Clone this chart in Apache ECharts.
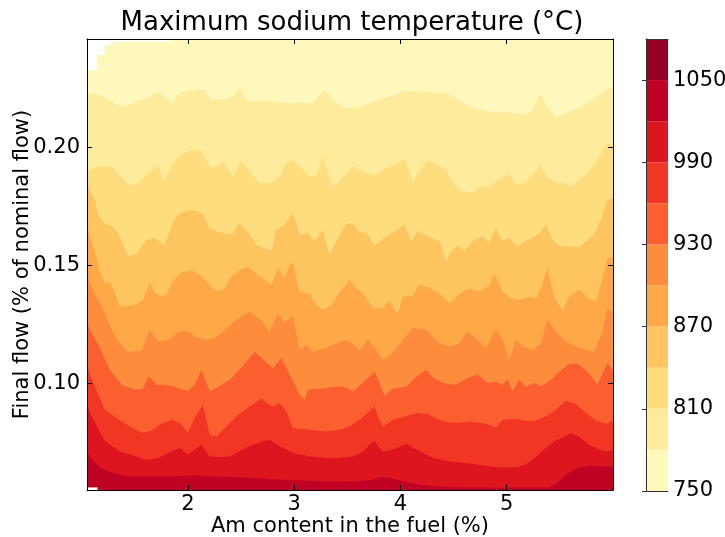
<!DOCTYPE html>
<html><head><meta charset="utf-8">
<script src="https://cdn.jsdelivr.net/npm/echarts@6/dist/echarts.min.js"></script>
<style>html,body{margin:0;padding:0;background:#fff}#c{width:725px;height:537px}</style>
</head><body><div id="c"></div>
<script>
// contour levels (°C) and fill colours (YlOrRd)
const levels = [750,780,810,840,870,900,930,960,990,1020,1050,1080];
const bandColors = ['#fff8bc','#ffeb9c','#fedd7e','#fec45f','#fea848','#fd8d3c','#fc5f2f','#f13724','#dc151e','#c00225','#960026'];
const xTicks = [2,3,4,5];
const yTicks = [0.10,0.15,0.20];
const cbTicks = [750,810,870,930,990,1050];

// iso-lines: [Am content %, final flow] ; temperature is above the level below each line
const c780 = [[1.05,0.2230],[1.077,0.2230],[1.171,0.2223],[1.281,0.2195],[1.375,0.2171],[1.484,0.2188],[1.610,0.2209],[1.719,0.2237],[1.766,0.2223],[1.845,0.2185],[1.939,0.2237],[2.111,0.2247],[2.158,0.2244],[2.221,0.2202],[2.362,0.2205],[2.440,0.2223],[2.487,0.2256],[2.565,0.2195],[2.691,0.2199],[2.832,0.2192],[2.957,0.2188],[3.051,0.2190],[3.176,0.2188],[3.286,0.2244],[3.380,0.2195],[3.490,0.2167],[3.615,0.2172],[3.756,0.2195],[3.897,0.2216],[4.022,0.2237],[4.101,0.2241],[4.242,0.2237],[4.445,0.2230],[4.555,0.2202],[4.680,0.2167],[4.773,0.2160],[4.883,0.2146],[4.993,0.2152],[5.087,0.2146],[5.165,0.2138],[5.243,0.2160],[5.313,0.2230],[5.384,0.2174],[5.457,0.2129],[5.557,0.2146],[5.713,0.2176],[5.854,0.2216],[5.948,0.2251],[6.0,0.2256]];
const c810 = [[1.05,0.1897],[1.077,0.1906],[1.171,0.1920],[1.281,0.1920],[1.375,0.1877],[1.453,0.1838],[1.531,0.1849],[1.625,0.1892],[1.719,0.1927],[1.782,0.1856],[1.829,0.1913],[1.923,0.1969],[2.064,0.1993],[2.127,0.1987],[2.205,0.1920],[2.252,0.1917],[2.330,0.1941],[2.424,0.1877],[2.503,0.1945],[2.581,0.1898],[2.675,0.1849],[2.785,0.1849],[2.863,0.1877],[2.926,0.1934],[2.988,0.1948],[3.067,0.1913],[3.145,0.1877],[3.208,0.1885],[3.270,0.1962],[3.317,0.1892],[3.364,0.1835],[3.427,0.1856],[3.490,0.1892],[3.552,0.1920],[3.615,0.1906],[3.756,0.1882],[3.866,0.1913],[4.022,0.1948],[4.054,0.1941],[4.116,0.1849],[4.163,0.1892],[4.257,0.1945],[4.367,0.1920],[4.430,0.1906],[4.476,0.1863],[4.555,0.1821],[4.680,0.1807],[4.742,0.1835],[4.836,0.1835],[4.914,0.1863],[5.024,0.1889],[5.087,0.1842],[5.149,0.1849],[5.228,0.1877],[5.313,0.1927],[5.384,0.1871],[5.447,0.1854],[5.525,0.1852],[5.604,0.1835],[5.682,0.1863],[5.760,0.1892],[5.854,0.1948],[5.948,0.2019],[6.0,0.2011]];
const c840 = [[1.05,0.1842],[1.077,0.1821],[1.124,0.1779],[1.155,0.1719],[1.218,0.1677],[1.281,0.1669],[1.343,0.1639],[1.437,0.1539],[1.516,0.1553],[1.610,0.1609],[1.688,0.1617],[1.782,0.1588],[1.860,0.1686],[1.939,0.1728],[2.064,0.1736],[2.142,0.1719],[2.205,0.1659],[2.283,0.1643],[2.409,0.1631],[2.487,0.1680],[2.565,0.1643],[2.644,0.1588],[2.722,0.1574],[2.785,0.1563],[2.832,0.1652],[2.910,0.1673],[2.988,0.1724],[3.051,0.1631],[3.129,0.1638],[3.192,0.1602],[3.270,0.1652],[3.333,0.1546],[3.411,0.1618],[3.490,0.1677],[3.552,0.1680],[3.615,0.1643],[3.678,0.1638],[3.756,0.1584],[3.834,0.1614],[3.928,0.1639],[4.038,0.1673],[4.101,0.1601],[4.160,0.1647],[4.273,0.1620],[4.367,0.1605],[4.430,0.1518],[4.476,0.1559],[4.536,0.1584],[4.602,0.1563],[4.680,0.1605],[4.773,0.1626],[4.836,0.1597],[4.899,0.1660],[4.962,0.1605],[5.024,0.1618],[5.103,0.1580],[5.165,0.1602],[5.259,0.1622],[5.322,0.1645],[5.369,0.1677],[5.431,0.1609],[5.494,0.1584],[5.588,0.1581],[5.682,0.1578],[5.758,0.1609],[5.823,0.1635],[5.886,0.1694],[5.948,0.1779],[6.0,0.1787]];
const c870 = [[1.05,0.1673],[1.077,0.1622],[1.124,0.1559],[1.171,0.1474],[1.218,0.1426],[1.265,0.1432],[1.312,0.1385],[1.359,0.1326],[1.500,0.1334],[1.578,0.1355],[1.641,0.1426],[1.688,0.1384],[1.751,0.1369],[1.798,0.1377],[1.860,0.1436],[1.939,0.1472],[2.048,0.1480],[2.111,0.1461],[2.174,0.1433],[2.236,0.1406],[2.283,0.1391],[2.346,0.1406],[2.409,0.1453],[2.487,0.1482],[2.565,0.1495],[2.628,0.1470],[2.722,0.1440],[2.785,0.1417],[2.847,0.1490],[2.910,0.1447],[2.957,0.1504],[2.988,0.1511],[3.051,0.1389],[3.145,0.1381],[3.208,0.1334],[3.270,0.1313],[3.349,0.1334],[3.427,0.1384],[3.521,0.1440],[3.584,0.1406],[3.646,0.1384],[3.740,0.1320],[3.819,0.1320],[3.897,0.1347],[3.975,0.1292],[4.022,0.1368],[4.116,0.1372],[4.179,0.1419],[4.273,0.1405],[4.367,0.1381],[4.461,0.1341],[4.555,0.1381],[4.649,0.1402],[4.742,0.1391],[4.836,0.1415],[4.883,0.1466],[4.962,0.1391],[5.040,0.1360],[5.118,0.1355],[5.212,0.1368],[5.275,0.1360],[5.322,0.1406],[5.384,0.1490],[5.447,0.1364],[5.525,0.1309],[5.588,0.1368],[5.682,0.1398],[5.760,0.1364],[5.839,0.1347],[5.898,0.1440],[5.948,0.1533],[6.0,0.1533]];
const c900 = [[1.05,0.1474],[1.077,0.1426],[1.143,0.1364],[1.218,0.1299],[1.281,0.1229],[1.359,0.1172],[1.437,0.1135],[1.563,0.1140],[1.641,0.1229],[1.719,0.1179],[1.813,0.1186],[1.923,0.1221],[2.001,0.1221],[2.064,0.1200],[2.158,0.1186],[2.236,0.1193],[2.330,0.1221],[2.456,0.1271],[2.581,0.1306],[2.691,0.1267],[2.769,0.1221],[2.847,0.1299],[2.910,0.1258],[2.988,0.1288],[3.051,0.1144],[3.114,0.1165],[3.176,0.1135],[3.270,0.1148],[3.364,0.1165],[3.490,0.1186],[3.521,0.1179],[3.615,0.1144],[3.693,0.1186],[3.772,0.1144],[3.834,0.1102],[3.928,0.1130],[4.022,0.1186],[4.116,0.1236],[4.241,0.1229],[4.367,0.1172],[4.461,0.1158],[4.555,0.1172],[4.633,0.1221],[4.742,0.1179],[4.805,0.1151],[4.899,0.1229],[4.962,0.1186],[5.024,0.1102],[5.087,0.1186],[5.149,0.1158],[5.243,0.1144],[5.322,0.1172],[5.384,0.1271],[5.463,0.1221],[5.557,0.1179],[5.651,0.1158],[5.745,0.1144],[5.823,0.1137],[5.901,0.1221],[5.948,0.1320],[6.0,0.1299]];
const c930 = [[1.05,0.1262],[1.077,0.1229],[1.171,0.1152],[1.265,0.1059],[1.375,0.0996],[1.500,0.0975],[1.578,0.0979],[1.625,0.1030],[1.657,0.1021],[1.704,0.0996],[1.766,0.0996],[1.845,0.0992],[1.923,0.0979],[2.001,0.0970],[2.064,0.0996],[2.127,0.1059],[2.205,0.0967],[2.268,0.0983],[2.393,0.1017],[2.518,0.1076],[2.628,0.1135],[2.691,0.1110],[2.800,0.1066],[2.879,0.1109],[2.973,0.1024],[3.051,0.0953],[3.098,0.0932],[3.129,0.0975],[3.302,0.0982],[3.427,0.0989],[3.505,0.0982],[3.552,0.0967],[3.646,0.1003],[3.756,0.1051],[3.784,0.1025],[3.850,0.0949],[3.928,0.0979],[4.054,0.0987],[4.148,0.1030],[4.241,0.1059],[4.320,0.1021],[4.430,0.1000],[4.523,0.0996],[4.633,0.1024],[4.727,0.1038],[4.820,0.1004],[4.899,0.1008],[4.962,0.0996],[5.009,0.1017],[5.056,0.0967],[5.118,0.1017],[5.181,0.0987],[5.259,0.1003],[5.322,0.0989],[5.400,0.1010],[5.494,0.1051],[5.588,0.1085],[5.666,0.1085],[5.760,0.1051],[5.854,0.0996],[5.948,0.1088],[6.0,0.1055]];
const c960 = [[1.05,0.1080],[1.077,0.1038],[1.218,0.0890],[1.328,0.0856],[1.453,0.0818],[1.563,0.0793],[1.641,0.0798],[1.735,0.0826],[1.845,0.0848],[1.923,0.0834],[2.001,0.0793],[2.064,0.0856],[2.142,0.0911],[2.205,0.0784],[2.268,0.0777],[2.362,0.0819],[2.471,0.0869],[2.581,0.0904],[2.691,0.0939],[2.738,0.0918],[2.800,0.0904],[2.863,0.0918],[2.926,0.0883],[2.988,0.0813],[3.145,0.0805],[3.302,0.0798],[3.427,0.0805],[3.521,0.0819],[3.615,0.0848],[3.693,0.0877],[3.756,0.0904],[3.787,0.0860],[3.834,0.0818],[3.928,0.0848],[4.054,0.0862],[4.148,0.0876],[4.257,0.0873],[4.336,0.0852],[4.461,0.0835],[4.555,0.0835],[4.649,0.0839],[4.742,0.0835],[4.836,0.0826],[4.899,0.0814],[4.962,0.0848],[5.087,0.0852],[5.181,0.0843],[5.275,0.0843],[5.369,0.0862],[5.463,0.0890],[5.557,0.0928],[5.651,0.0915],[5.745,0.0877],[5.839,0.0843],[5.933,0.0831],[6.0,0.0843]];
const c990 = [[1.05,0.0911],[1.077,0.0877],[1.218,0.0756],[1.359,0.0713],[1.516,0.0692],[1.610,0.0678],[1.719,0.0686],[1.813,0.0707],[1.923,0.0728],[2.001,0.0700],[2.127,0.0742],[2.205,0.0692],[2.299,0.0690],[2.393,0.0692],[2.518,0.0721],[2.612,0.0742],[2.706,0.0756],[2.769,0.0763],[2.863,0.0735],[2.988,0.0707],[3.145,0.0692],[3.302,0.0686],[3.427,0.0686],[3.552,0.0692],[3.646,0.0712],[3.709,0.0742],[3.756,0.0756],[3.803,0.0728],[3.834,0.0712],[3.928,0.0721],[3.991,0.0733],[4.054,0.0746],[4.148,0.0721],[4.304,0.0687],[4.461,0.0671],[4.617,0.0664],[4.773,0.0655],[4.930,0.0645],[5.087,0.0645],[5.175,0.0657],[5.259,0.0683],[5.353,0.0721],[5.447,0.0755],[5.541,0.0774],[5.604,0.0791],[5.682,0.0776],[5.776,0.0742],[5.870,0.0721],[5.948,0.0713],[6.0,0.0721]];
const c1020 = [[1.05,0.0721],[1.077,0.0691],[1.171,0.0645],[1.296,0.0622],[1.422,0.0608],[1.610,0.0608],[1.798,0.0608],[1.923,0.0608],[2.048,0.0611],[2.236,0.0608],[2.424,0.0605],[2.612,0.0601],[2.800,0.0594],[2.988,0.0592],[3.176,0.0588],[3.364,0.0587],[3.521,0.0585],[3.678,0.0590],[3.756,0.0596],[3.834,0.0606],[3.928,0.0598],[4.022,0.0587],[4.179,0.0573],[4.367,0.0564],[4.617,0.0561],[4.930,0.0559],[5.243,0.0561],[5.400,0.0560],[5.478,0.0580],[5.557,0.0615],[5.666,0.0644],[5.792,0.0653],[5.917,0.0649],[6.0,0.0649]];
// edges of the computed domain (no data outside)
const noDataTop = [[1.05,0.2329],[1.143,0.2329],[1.143,0.2392],[1.218,0.2392],[1.218,0.2435],[1.293,0.2435],[1.293,0.2449],[1.848,0.2449],[1.848,0.246]];
const noDataBottom = [[1.05,0.0561],[1.15,0.0561]];

const isoLines = [c780,c810,c840,c870,c900,c930,c960,c990,c1020];

const FONT = 'DejaVu Sans';
const X0 = 1.05, X1 = 6.0, Y0 = 0.055, Y1 = 0.246;

const series = isoLines.map((d, i) => ({
  type: 'line', xAxisIndex: 0, yAxisIndex: 0, data: d,
  showSymbol: false, symbol: 'none', silent: true, animation: false,
  lineStyle: {width: 0},
  areaStyle: {origin: 'start', color: bandColors[i + 1], opacity: 1},
  z: 2 + i * 0.01
}));
series.push({
  type: 'line', xAxisIndex: 0, yAxisIndex: 0, data: noDataTop,
  showSymbol: false, symbol: 'none', silent: true, animation: false,
  lineStyle: {width: 0}, areaStyle: {origin: 'end', color: '#ffffff', opacity: 1}, z: 3
});
series.push({
  type: 'line', xAxisIndex: 0, yAxisIndex: 0, data: noDataBottom,
  showSymbol: false, symbol: 'none', silent: true, animation: false,
  lineStyle: {width: 0}, areaStyle: {origin: 'start', color: '#ffffff', opacity: 1}, z: 3
});
// colour bar
const bands = levels.slice(0, -1).map((lo, i) => [lo, levels[i + 1], i]);
series.push({
  type: 'custom', xAxisIndex: 2, yAxisIndex: 2, data: bands, silent: true, animation: false,
  encode: {y: [0, 1]},
  renderItem: function (params, api) {
    const lo = api.value(0), hi = api.value(1), i = api.value(2);
    const p1 = api.coord([0, hi]);
    const p2 = api.coord([1, lo]);
    return {type: 'rect', shape: {x: p1[0], y: p1[1], width: p2[0] - p1[0], height: p2[1] - p1[1]},
            style: {fill: bandColors[i]}};
  }
});

const lineBlack = {show: true, lineStyle: {color: '#000', width: 1}};
const txt = {color: '#000', fontFamily: FONT, fontSize: 21};

const option = {
  animation: false,
  backgroundColor: '#fff',
  grid: [
    {left: 87, right: 112, top: 39, bottom: 47, show: true, backgroundColor: bandColors[0], borderWidth: 0,
     outerBoundsMode: 'none', containLabel: false},
    {left: 646, width: 22, top: 39, bottom: 46, outerBoundsMode: 'none', containLabel: false}
  ],
  graphic: [{type: 'text', style: {text: 'Maximum sodium temperature (°C)', x: 352, y: 23,
    align: 'center', verticalAlign: 'middle', font: '26px "DejaVu Sans"', fill: '#000'}}],
  xAxis: [
    {type: 'value', gridIndex: 0, position: 'bottom', min: X0, max: X1, z: 10,
     axisLine: lineBlack, splitLine: {show: false},
     axisTick: {show: true, inside: true, length: 5, customValues: xTicks, lineStyle: {color: '#000'}},
     axisLabel: {customValues: xTicks, margin: 4, formatter: v => String(v), ...txt},
     name: 'Am content in the fuel (%)', nameLocation: 'middle', nameGap: 26, nameMoveOverlap: false, nameTextStyle: txt},
    {type: 'value', gridIndex: 0, position: 'top', min: X0, max: X1, z: 10,
     axisLine: lineBlack, splitLine: {show: false},
     axisTick: {show: true, inside: true, length: 5, customValues: xTicks, lineStyle: {color: '#000'}},
     axisLabel: {show: false}},
    {type: 'value', gridIndex: 1, position: 'bottom', min: 0, max: 1, z: 10,
     axisLine: {show: true, lineStyle: {color: '#333', width: 1}}, axisTick: {show: false}, axisLabel: {show: false}, splitLine: {show: false}},
    {type: 'value', gridIndex: 1, position: 'top', min: 0, max: 1, z: 10,
     axisLine: {show: true, lineStyle: {color: '#333', width: 1}}, axisTick: {show: false}, axisLabel: {show: false}, splitLine: {show: false}}
  ],
  yAxis: [
    {type: 'value', gridIndex: 0, position: 'left', min: Y0, max: Y1, z: 10,
     axisLine: lineBlack, splitLine: {show: false},
     axisTick: {show: true, inside: true, length: 5, customValues: yTicks, lineStyle: {color: '#000'}},
     axisLabel: {customValues: yTicks, margin: 7, formatter: v => v.toFixed(2), ...txt},
     name: 'Final flow (% of nominal flow)', nameLocation: 'middle', nameGap: 54, nameMoveOverlap: false, nameTextStyle: txt},
    {type: 'value', gridIndex: 0, position: 'right', min: Y0, max: Y1, z: 10,
     axisLine: lineBlack, splitLine: {show: false},
     axisTick: {show: true, inside: true, length: 5, customValues: yTicks, lineStyle: {color: '#000'}},
     axisLabel: {show: false}},
    {type: 'value', gridIndex: 1, position: 'right', min: levels[0], max: levels[levels.length - 1], z: 10,
     axisLine: {show: true, lineStyle: {color: '#333', width: 1}}, splitLine: {show: false},
     axisTick: {show: true, inside: true, length: 4, customValues: cbTicks, lineStyle: {color: '#333'}},
     axisLabel: {customValues: cbTicks, margin: 5, formatter: v => String(v), ...txt}},
    {type: 'value', gridIndex: 1, position: 'left', min: levels[0], max: levels[levels.length - 1], z: 10,
     axisLine: {show: true, lineStyle: {color: '#333', width: 1}}, splitLine: {show: false},
     axisTick: {show: false}, axisLabel: {show: false}}
  ],
  series: series
};

const chart = echarts.init(document.getElementById('c'), null, {renderer: 'canvas'});
chart.setOption(option);
</script>
</body></html>
